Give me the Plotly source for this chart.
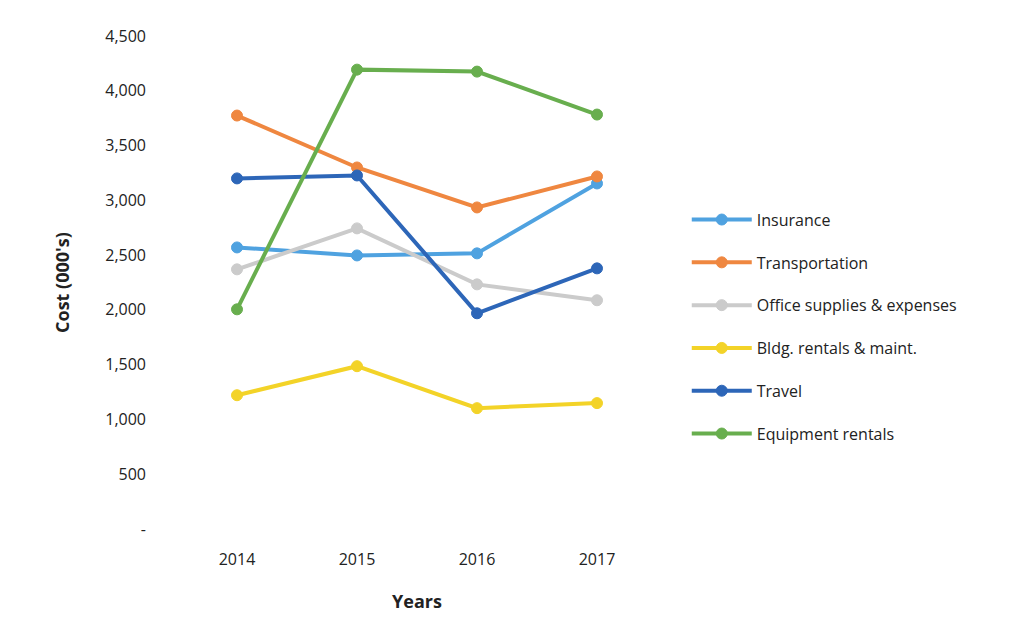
import plotly.graph_objects as go

years = ["2014", "2015", "2016", "2017"]
insurance = [2570, 2497, 2516, 3154]
transportation = [3774, 3300, 2935, 3218]
office = [2370, 2744, 2233, 2088]
bldg = [1221, 1486, 1103, 1149]
travel = [3200, 3227, 1969, 2379]
equipment = [2005, 4193, 4175, 3783]

series_names = ["Insurance", "Transportation", "Office supplies & expenses",
                "Bldg. rentals & maint.", "Travel", "Equipment rentals"]
series_values = [insurance, transportation, office, bldg, travel, equipment]
colors = ["#4FA2E0", "#EF8740", "#CBCBCB", "#F3D328", "#2D66B8", "#68AE4E"]

ytick_vals = [0, 500, 1000, 1500, 2000, 2500, 3000, 3500, 4000, 4500]
ytick_text = ["-", "500", "1,000", "1,500", "2,000", "2,500", "3,000", "3,500", "4,000", "4,500"]

fig = go.Figure()
for i, (name, vals, c) in enumerate(zip(series_names, series_values, colors)):
    fig.add_trace(go.Scatter(
        x=years, y=vals, name=name, mode="lines+markers",
        line=dict(color=c, width=4),
        marker=dict(color=c, size=11, line=dict(color=c, width=1)),
        legendgroup=f"g{i}",
    ))

fig.update_layout(
    width=1019, height=641,
    margin=dict(l=177, r=362, t=36, b=112),
    paper_bgcolor="white", plot_bgcolor="white",
    font=dict(family="Open Sans, Liberation Sans, sans-serif", size=16, color="#222222"),
    showlegend=True,
    legend=dict(x=1.062, y=0.662, xanchor="left", yanchor="top",
                font=dict(size=16, color="#222222"), tracegroupgap=19,
                itemwidth=60, bgcolor="rgba(0,0,0,0)"),
    xaxis=dict(type="category", range=[-0.5, 3.5], showgrid=False, showline=False,
               zeroline=False, ticks="", tickfont=dict(size=16),
               ticklabelstandoff=19,
               title=dict(text="<b>Years</b>", font=dict(size=18), standoff=26)),
    yaxis=dict(range=[0, 4500], tickvals=ytick_vals, ticktext=ytick_text,
               showgrid=False, showline=False, zeroline=False, ticks="",
               tickfont=dict(size=16), ticklabelstandoff=30,
               title=dict(text="<b>Cost (000's)</b>", font=dict(size=18), standoff=30)),
)

fig.write_html("out.html")
